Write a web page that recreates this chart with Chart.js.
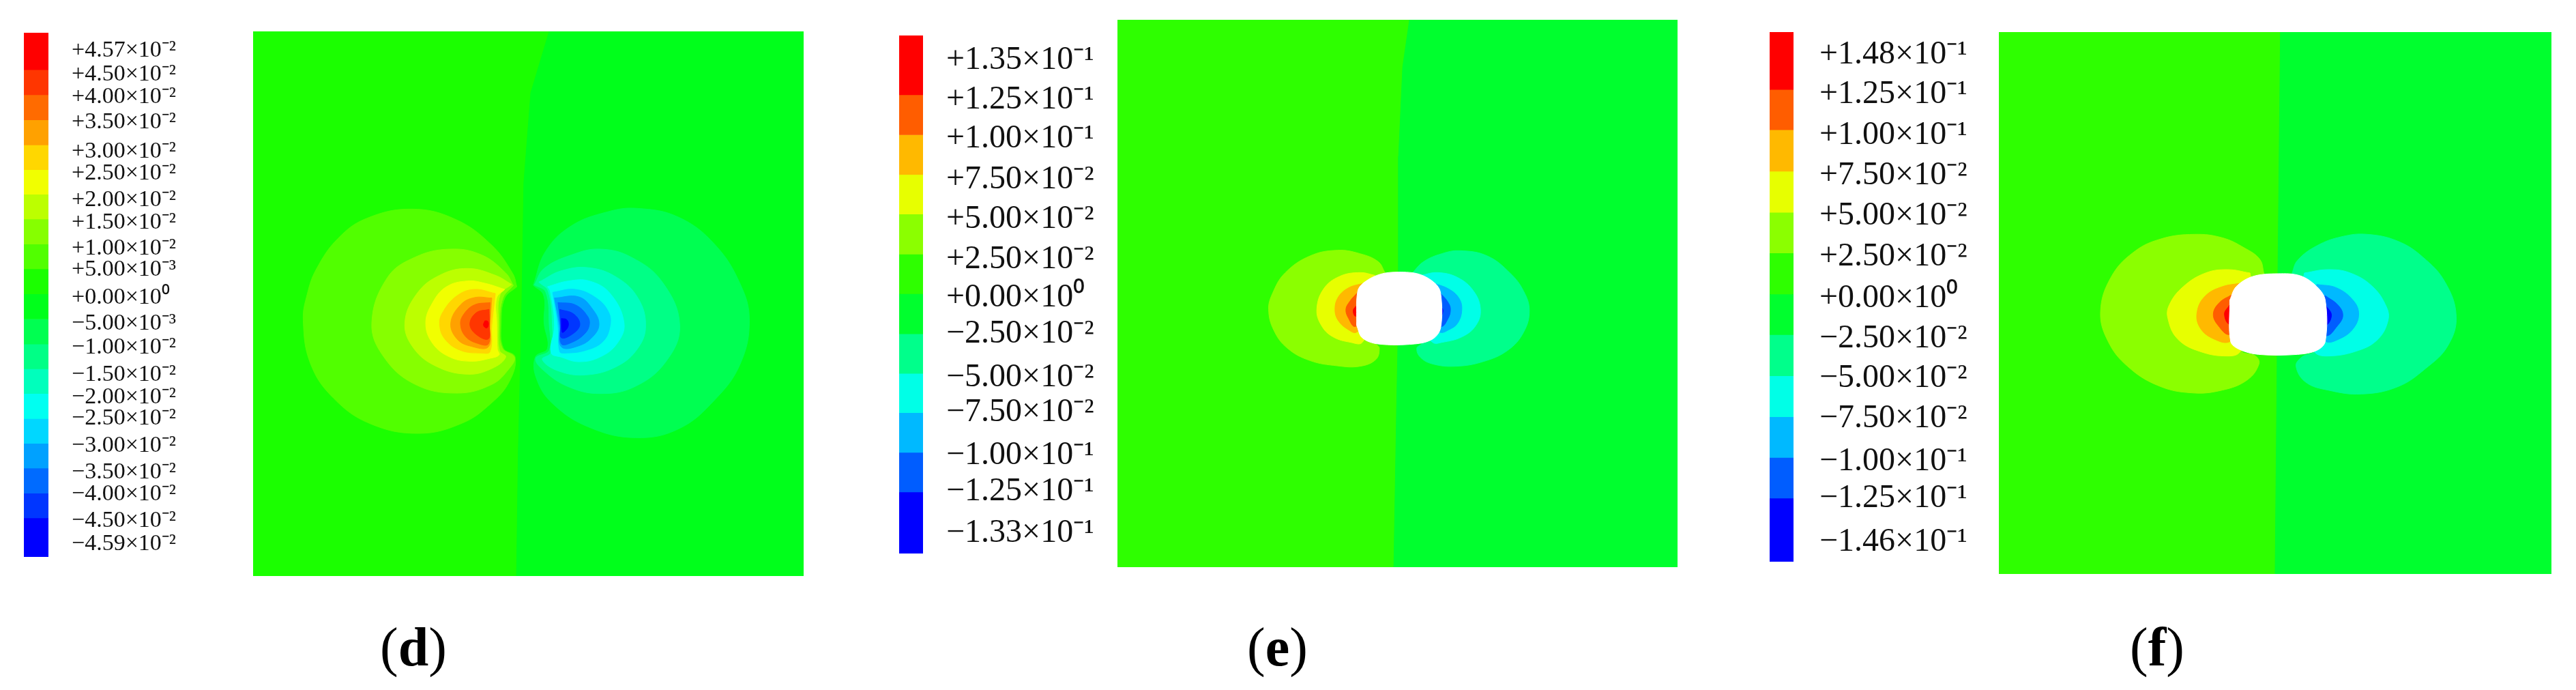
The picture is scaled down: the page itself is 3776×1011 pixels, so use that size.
<!DOCTYPE html>
<html>
<head>
<meta charset="utf-8">
<script src="https://cdn.jsdelivr.net/npm/chart.js@4"></script>
<style>
  html, body { margin: 0; background: #fff; width: 3776px; height: 1011px; overflow: hidden; }
  canvas { position: absolute; }
  .cap { position: absolute; top: 903px; font: 80px "Liberation Serif", serif; color: #000; }
</style>
</head>
<body>
<canvas id="barD"></canvas><canvas id="fieldD"></canvas>
<canvas id="barE"></canvas><canvas id="fieldE"></canvas>
<canvas id="barF"></canvas><canvas id="fieldF"></canvas>
<div class="cap" style="left:557px">(<b>d</b>)</div>
<div class="cap" style="left:1828px">(<b>e</b>)</div>
<div class="cap" style="left:3122px">(<b>f</b>)</div>
<script>
// colour bars: band edges and tick positions on each bar's own axis
const dBandEdges = [35,141,213,285,357,428,499,570,642,713,785,857,929,1000,1071,1143,1214,1285,1357,1428,1540];
const dTickPos = [87,154,219,292,377,439,515,579,655,715,795,869,939,1017,1082,1142,1220,1297,1359,1437,1502];
const dTickLabels = ['+4.57×10⁻²','+4.50×10⁻²','+4.00×10⁻²','+3.50×10⁻²','+3.00×10⁻²','+2.50×10⁻²','+2.00×10⁻²','+1.50×10⁻²','+1.00×10⁻²','+5.00×10⁻³','+0.00×10⁰','−5.00×10⁻³','−1.00×10⁻²','−1.50×10⁻²','−2.00×10⁻²','−2.50×10⁻²','−3.00×10⁻²','−3.50×10⁻²','−4.00×10⁻²','−4.50×10⁻²','−4.59×10⁻²'];
const dBandColors = ['#ff0000','#ff3600','#ff6b00','#ffa100','#ffd700','#f1ff00','#bcff00','#86ff00','#51ff00','#1bff00','#00ff1b','#00ff51','#00ff86','#00ffbc','#00fff1','#00d7ff','#00a1ff','#006bff','#0036ff','#0000ff'];

const eBandEdges = [62,228,340,451,562,674,785,897,1008,1118,1229,1340,1512];
const eTickPos = [132,242,352,465,577,689,797,897,1019,1117,1237,1339,1455];
const eTickLabels = ['+1.35×10⁻¹','+1.25×10⁻¹','+1.00×10⁻¹','+7.50×10⁻²','+5.00×10⁻²','+2.50×10⁻²','+0.00×10⁰','−2.50×10⁻²','−5.00×10⁻²','−7.50×10⁻²','−1.00×10⁻¹','−1.25×10⁻¹','−1.33×10⁻¹'];

const fBandEdges = [32,193,306,422,537,651,766,880,995,1110,1224,1338,1516];
const fTickPos = [95,207,322,435,547,662,779,892,1002,1115,1235,1339,1462];
const fTickLabels = ['+1.48×10⁻¹','+1.25×10⁻¹','+1.00×10⁻¹','+7.50×10⁻²','+5.00×10⁻²','+2.50×10⁻²','+0.00×10⁰','−2.50×10⁻²','−5.00×10⁻²','−7.50×10⁻²','−1.00×10⁻¹','−1.25×10⁻¹','−1.46×10⁻¹'];

const band12Colors = ['#ff0000','#ff5d00','#ffb900','#e7ff00','#8bff00','#2eff00','#00ff2e','#00ff8b','#00ffe7','#00b9ff','#005dff','#0000ff'];

// field (d): right half boundary and contour outlines, outermost first
const dRightHalf = [[755,-702],[702,-432],[682,-36],[676,519],[666,1155],[661,1692],[1486,1692],[1486,-702]];
const dPosContours = [
  [[662,420],[650,362],[588,235],[484,123],[360,79],[230,120],[148,208],[86,342],[60,450],[48,568],[69,759],[135,910],[240,1022],[380,1065],[505,1020],[588,933],[640,838],[657,729],[623,690],[617,579],[627,471]],
  [[652,415],[630,360],[560,280],[470,255],[370,290],[290,380],[245,580],[280,730],[370,850],[490,888],[590,850],[640,780],[655,730],[620,690],[613,585],[622,470]],
  [[647,410],[600,370],[520,340],[440,370],[375,450],[340,580],[365,690],[430,770],[520,805],[590,780],[630,730],[612,700],[609,585],[614,455]],
  [[627,432],[570,405],[520,395],[460,420],[420,490],[400,580],[420,670],[470,730],[530,748],[585,735],[611,720],[606,695],[604,580],[604,470]],
  [[600,450],[540,432],[490,460],[450,530],[440,585],[455,650],[500,700],[560,712],[585,705],[590,590]],
  [[590,470],[540,468],[500,500],[472,580],[490,650],[530,682],[580,685],[585,590]],
  [[585,490],[540,500],[510,540],[500,585],[515,640],[550,670],[580,672],[583,590]],
  [[582,520],[545,535],[527,585],[545,630],[580,650],[583,590]],
  [[570,570],[578,572],[580,590],[575,602],[566,590]]
];
const dNegContours = [
  [[709,414],[744,266],[816,155],[920,92],[1008,76],[1127,115],[1231,235],[1304,409],[1330,568],[1304,759],[1231,917],[1127,1045],[1003,1084],[868,1037],[764,933],[718,823],[715,729],[750,692],[740,579],[739,459]],
  [[712,412],[740,340],[820,280],[900,255],[990,290],[1080,400],[1130,590],[1090,750],[1000,860],[900,890],[810,860],[740,790],[716,735],[755,700],[755,590],[745,445]],
  [[725,400],[790,350],[870,337],[950,380],[1010,470],[1032,590],[1010,690],[950,770],[860,808],[780,790],[735,740],[760,710],[764,590],[752,440]],
  [[750,420],[810,395],[870,395],[930,450],[970,580],[950,670],[900,730],[840,750],[790,730],[760,710],[770,590],[758,441]],
  [[765,445],[830,432],[890,470],[925,530],[930,590],[910,660],[860,700],[800,712],[785,705],[780,590]],
  [[770,470],[840,465],[880,520],[898,585],[880,640],[840,680],[790,685],[784,590]],
  [[780,490],[830,500],[865,550],[870,590],[855,630],[820,665],[790,672],[787,590]],
  [[785,520],[825,540],[843,585],[825,625],[790,645],[788,590]],
  [[790,560],[805,565],[810,590],[800,615],[792,620]]
];
const dPosColors = ['#51ff00','#86ff00','#bcff00','#f1ff00','#ffd700','#ffa100','#ff6b00','#ff3600','#ff0000'];
const dNegColors = ['#00ff51','#00ff86','#00ffbc','#00fff1','#00d7ff','#00a1ff','#006bff','#0036ff','#0000ff'];

// field (e)
const eRightHalf = [[738,-873],[708,-666],[690,-273],[690,400],[681,840],[669,1533],[1917,1533],[1917,-873]];
const ePosContours = [
  [[630,238],[600,190],[520,155],[420,140],[300,165],[190,240],[135,330],[118,400],[140,490],[200,570],[300,625],[420,648],[520,650],[590,620],[605,570],[590,545],[690,400]],
  [[585,250],[520,238],[430,255],[360,310],[330,400],[350,470],[400,520],[480,545],[530,545],[600,400]],
  [[535,285],[470,305],[425,345],[410,400],[425,450],[470,490],[505,500],[600,400]],
  [[510,325],[475,365],[458,400],[470,440],[500,475],[600,400]],
  [[503,385],[490,405],[500,430],[520,400]]
];
const eNegContours = [
  [[750,240],[800,190],[880,155],[960,142],[1080,165],[1180,240],[1240,320],[1265,405],[1240,500],[1170,580],[1060,630],[940,650],[840,640],[785,610],[770,570],[790,548],[690,400]],
  [[790,250],[860,238],[950,260],[1020,320],[1050,400],[1030,470],[970,520],[880,545],[840,545],[700,400]],
  [[845,285],[910,310],[955,350],[968,400],[950,460],[910,490],[870,500],[700,400]],
  [[870,325],[905,365],[918,400],[905,445],[875,475],[700,400]],
  [[875,385],[885,405],[875,430],[860,405]]
];
const eOpening = [[505,470],[530,525],[600,552],[760,552],[840,530],[875,480],[875,330],[850,285],[780,245],[690,236],[610,245],[540,280],[510,320]];

// field (f)
const fRightHalf = [[889,-759],[880,300],[870,1623],[1862,1623],[1862,-759]];
const fPosContours = [
  [[830,303],[815,240],[760,190],[680,145],[580,130],[460,150],[360,210],[280,320],[243,470],[270,600],[340,710],[450,795],[570,827],[680,815],[770,770],[812,700],[800,665],[750,640],[800,480]],
  [[780,300],[700,285],[620,300],[540,360],[490,440],[485,500],[520,590],[600,645],[700,665],[745,645],[800,480]],
  [[745,345],[680,360],[620,400],[590,470],[600,540],[650,590],[710,600],[800,480]],
  [[715,395],[670,430],[648,480],[665,530],[708,570],[800,480]],
  [[707,440],[688,480],[707,525],[760,480]]
];
const fNegContours = [
  [[930,303],[950,245],[1020,180],[1110,140],[1200,130],[1310,160],[1400,230],[1480,340],[1520,490],[1490,620],[1410,720],[1310,800],[1180,832],[1060,815],[980,780],[945,710],[965,670],[1010,640],[950,480]],
  [[975,300],[1060,285],[1140,300],[1220,360],[1270,450],[1275,510],[1240,590],[1170,640],[1060,665],[1010,645],[950,480]],
  [[1020,350],[1090,365],[1150,420],[1170,480],[1150,545],[1100,590],[1050,600],[950,480]],
  [[1050,400],[1095,440],[1113,485],[1095,530],[1050,575],[950,480]],
  [[1050,440],[1072,485],[1050,530],[1000,485]]
];
const fOpening = [[707,420],[730,360],[790,315],[880,303],[960,312],[1020,360],[1050,420],[1050,600],[1020,640],[950,658],[810,658],[740,635],[710,600]];

const contourPos = ['#8bff00','#e7ff00','#ffb900','#ff5d00','#ff0000'];
const contourNeg = ['#00ff8b','#00ffe7','#00b9ff','#005dff','#0000ff'];

Chart.defaults.animation = false;
Chart.defaults.font.family = '"Liberation Serif", serif';

function place(id, left, top, w, h) {
  const c = document.getElementById(id);
  c.width = w; c.height = h;
  c.style.left = left + 'px'; c.style.top = top + 'px';
  c.style.width = w + 'px'; c.style.height = h + 'px';
  return c.getContext('2d');
}

function colorBar(id, box, edges, tickPos, tickLabels, colors, fontSize, tickPad) {
  const ctx = place(id, box.left, box.top, box.barW + box.axisW, box.h);
  new Chart(ctx, {
    type: 'bar',
    data: {
      labels: ['S'],
      datasets: colors.map((c, i) => ({
        data: [[edges[i], edges[i + 1]]],
        backgroundColor: c,
        borderWidth: 0,
        grouped: false,
        barPercentage: 1,
        categoryPercentage: 1
      }))
    },
    options: {
      responsive: false,
      plugins: { legend: { display: false }, tooltip: { enabled: false } },
      scales: {
        x: { display: false },
        y: {
          position: 'right',
          reverse: true,
          min: edges[0],
          max: edges[edges.length - 1],
          grid: { display: false, drawTicks: false },
          border: { display: false },
          afterBuildTicks: s => { s.ticks = tickPos.map(v => ({ value: v })); },
          afterFit: s => { s.width = box.axisW; s.paddingTop = 0; s.paddingBottom = 0; },
          ticks: {
            autoSkip: false,
            padding: tickPad,
            color: '#111',
            font: { size: fontSize },
            callback: (v, i) => tickLabels[i]
          }
        }
      }
    }
  });
}

function shape(points, color, tension, order) {
  return {
    data: points.concat([points[0]]),
    showLine: true,
    fill: 'shape',
    tension: tension,
    backgroundColor: color,
    borderColor: color,
    borderWidth: 1,
    pointRadius: 0,
    order: order
  };
}

function field(id, box, range, leftColor, rightColor, rightHalf, pos, neg, posColors, negColors, opening) {
  const ctx = place(id, box.left, box.top, box.w, box.h);
  const [x0, x1, y0, y1] = range;
  const layers = [[[[x0, y0], [x1, y0], [x1, y1], [x0, y1]], leftColor, 0], [rightHalf, rightColor, 0]];
  pos.forEach((p, i) => layers.push([p, posColors[i], 0.4]));
  neg.forEach((p, i) => layers.push([p, negColors[i], 0.4]));
  if (opening) layers.push([opening, '#ffffff', 0.35]);
  new Chart(ctx, {
    type: 'scatter',
    data: { datasets: layers.map((l, i) => shape(l[0], l[1], l[2], layers.length - i)) },
    options: {
      responsive: false,
      plugins: { legend: { display: false }, tooltip: { enabled: false } },
      scales: {
        x: { display: false, min: x0, max: x1 },
        y: { display: false, reverse: true, min: y0, max: y1 }
      }
    }
  });
}

colorBar('barD', { left: 35, top: 48, barW: 36, axisW: 260, h: 768 }, dBandEdges, dTickPos, dTickLabels, dBandColors, 34, 34);
colorBar('barE', { left: 1318, top: 52, barW: 35, axisW: 280, h: 759 }, eBandEdges, eTickPos, eTickLabels, band12Colors, 48, 34);
colorBar('barF', { left: 2594, top: 47, barW: 35, axisW: 280, h: 776 }, fBandEdges, fTickPos, fTickLabels, band12Colors, 48, 38);

field('fieldD', { left: 371, top: 46, w: 807, h: 798 }, [-96, 1486, -702, 1692], '#1bff00', '#00ff1b', dRightHalf, dPosContours, dNegContours, dPosColors, dNegColors, null);
field('fieldE', { left: 1638, top: 29, w: 821, h: 802 }, [-547, 1917, -873, 1533], '#2eff00', '#00ff2e', eRightHalf, ePosContours, eNegContours, contourPos, contourNeg, eOpening);
field('fieldF', { left: 2930, top: 47, w: 810, h: 794 }, [-122, 1862, -759, 1623], '#2eff00', '#00ff2e', fRightHalf, fPosContours, fNegContours, contourPos, contourNeg, fOpening);
</script>
</body>
</html>
